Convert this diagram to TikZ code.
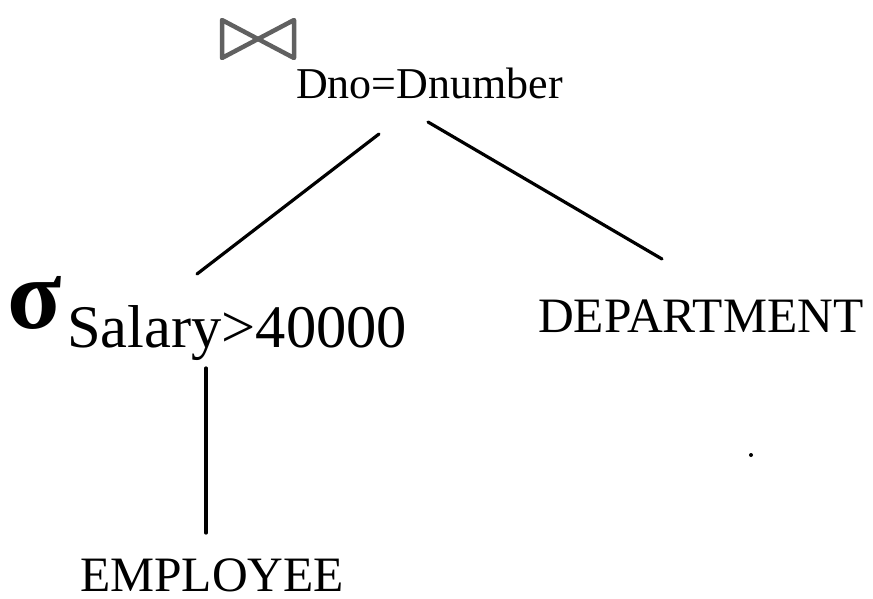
\documentclass[tikz,border=0pt]{standalone}
\usepackage{fontspec}
\setmainfont{Liberation Serif}
\begin{document}
\begin{tikzpicture}[x=1pt,y=-1pt,
  lbl/.style={anchor=base west,inner sep=0pt,text=black},
  edge/.style={line width=3.2pt,black,line cap=round},
  joinsym/.style={line width=4.5pt,black!62,line join=round,line cap=round}]
\useasboundingbox (0,0) rectangle (873,598);
% join operator symbol
\draw[joinsym] (258,39) -- (222,20) -- (222,58) -- cycle;
\draw[joinsym] (258,39) -- (294,20) -- (294,58) -- cycle;
% labels
\node[lbl,font=\fontsize{44}{44}\selectfont] (cond) at (296,98.5) {Dno=Dnumber};
\node[lbl,font=\fontsize{100}{100}\selectfont\bfseries] (sigma) at (7,328) {σ};
\node[lbl,font=\fontsize{60.5}{60}\selectfont] (sel) at (67,347) {Salary>40000};
\node[lbl,font=\fontsize{49.5}{48}\selectfont] (dept) at (538,332) {DEPARTMENT};
\node[lbl,text depth=0pt,font=\fontsize{49.5}{48}\selectfont] (emp) at (80,591) {EMPLOYEE};
% connector end points
\coordinate (jl) at (379,134);
\coordinate (jr) at (428,122);
\coordinate (st) at (197,274);
\coordinate (sb) at (206,368);
\coordinate (dt) at (662,259);
\coordinate (et) at (206,533);
\draw[edge] (jl) -- (st);
\draw[edge] (jr) -- (dt);
\draw[edge] (sb) -- (et);
% stray dot
\fill (751,455) circle (2);
\end{tikzpicture}
\end{document}
